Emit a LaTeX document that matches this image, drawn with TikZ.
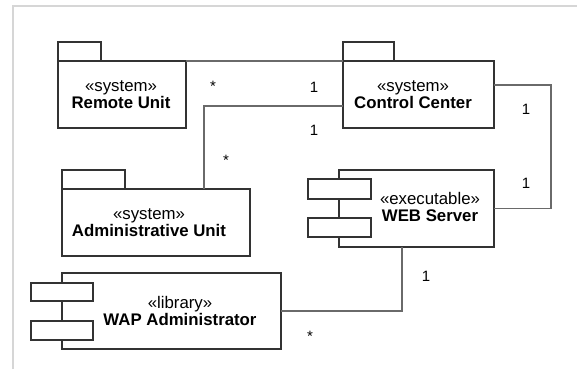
\documentclass[tikz,border=0pt]{standalone}
\usepackage{fontspec}
\setmainfont{Liberation Sans}
\begin{document}
\begin{tikzpicture}[x=1pt,y=-1pt,
  every node/.style={inner sep=0pt, outer sep=0pt},
  box/.style={draw=boxline, line width=1.1pt, fill=white, anchor=north west},
  link/.style={draw=linkline, line width=1.1pt},
  txt/.style={font=\fontsize{16.8}{16.8}\selectfont, align=center},
  mult/.style={font=\fontsize{15}{16}\selectfont}]
\definecolor{boxline}{HTML}{333333}
\definecolor{linkline}{HTML}{6A6A6A}
\definecolor{framegray}{HTML}{D6D6D6}
\useasboundingbox (0,0) rectangle (577,369);
% outer frame
\draw[framegray, line width=2pt] (12.5,369) -- (12.5,6.5) -- (577,6.5);

% packages: tab + body
\node[box, minimum width=43pt, minimum height=19pt] (remtab) at (58,42) {};
\node[box, minimum width=128pt, minimum height=67pt] (rem) at (58,61) {};
\node[box, minimum width=51pt, minimum height=19pt] (cctab) at (343,42) {};
\node[box, minimum width=151pt, minimum height=67pt] (cc) at (343,61) {};
\node[box, minimum width=63pt, minimum height=19pt] (admtab) at (62,170) {};
\node[box, minimum width=188pt, minimum height=67pt] (adm) at (62,189) {};

% components: body + two small bars
\node[box, minimum width=155pt, minimum height=77pt] (web) at (339,170) {};
\node[box, minimum width=63pt, minimum height=20pt] (webbar1) at (308,179) {};
\node[box, minimum width=63pt, minimum height=19pt] (webbar2) at (308,218) {};
\node[box, minimum width=219pt, minimum height=76pt] (wap) at (62,273) {};
\node[box, minimum width=62pt, minimum height=18pt] (wapbar1) at (31,283) {};
\node[box, minimum width=62pt, minimum height=19pt] (wapbar2) at (31,321) {};

% element labels
\node[txt] (remlbl) at (121,95) {«system»\\\textbf{Remote Unit}};
\node[txt] (cclbl) at (413,95) {«system»\\\textbf{Control Center}};
\node[txt] (admlbl) at (149,223) {«system»\\\textbf{Administrative Unit}};
\node[txt] (weblbl) at (430,207) {«executable»\\\textbf{WEB Server}};
\node[txt] (waplbl) at (180,311) {«library»\\\textbf{WAP Administrator}};

% associations
\draw[link] (rem.north east) -- (cc.north west);
\draw[link] ([yshift=22pt]cc.south west) -| ([xshift=48pt]adm.north);
\draw[link] ([yshift=-24pt]cc.north east) -- ++(57,0) |- (web.east);
\draw[link] ([xshift=-14.5pt]web.south) |- (wap.east);

% multiplicities
\node[mult] (m1) at (213,86) {*};
\node[mult] (m2) at (314,87) {1};
\node[mult] (m3) at (314,130) {1};
\node[mult] (m4) at (226,160) {*};
\node[mult] (m5) at (526,109) {1};
\node[mult] (m6) at (526,183) {1};
\node[mult] (m7) at (426,276) {1};
\node[mult] (m8) at (310,336) {*};
\end{tikzpicture}
\end{document}
